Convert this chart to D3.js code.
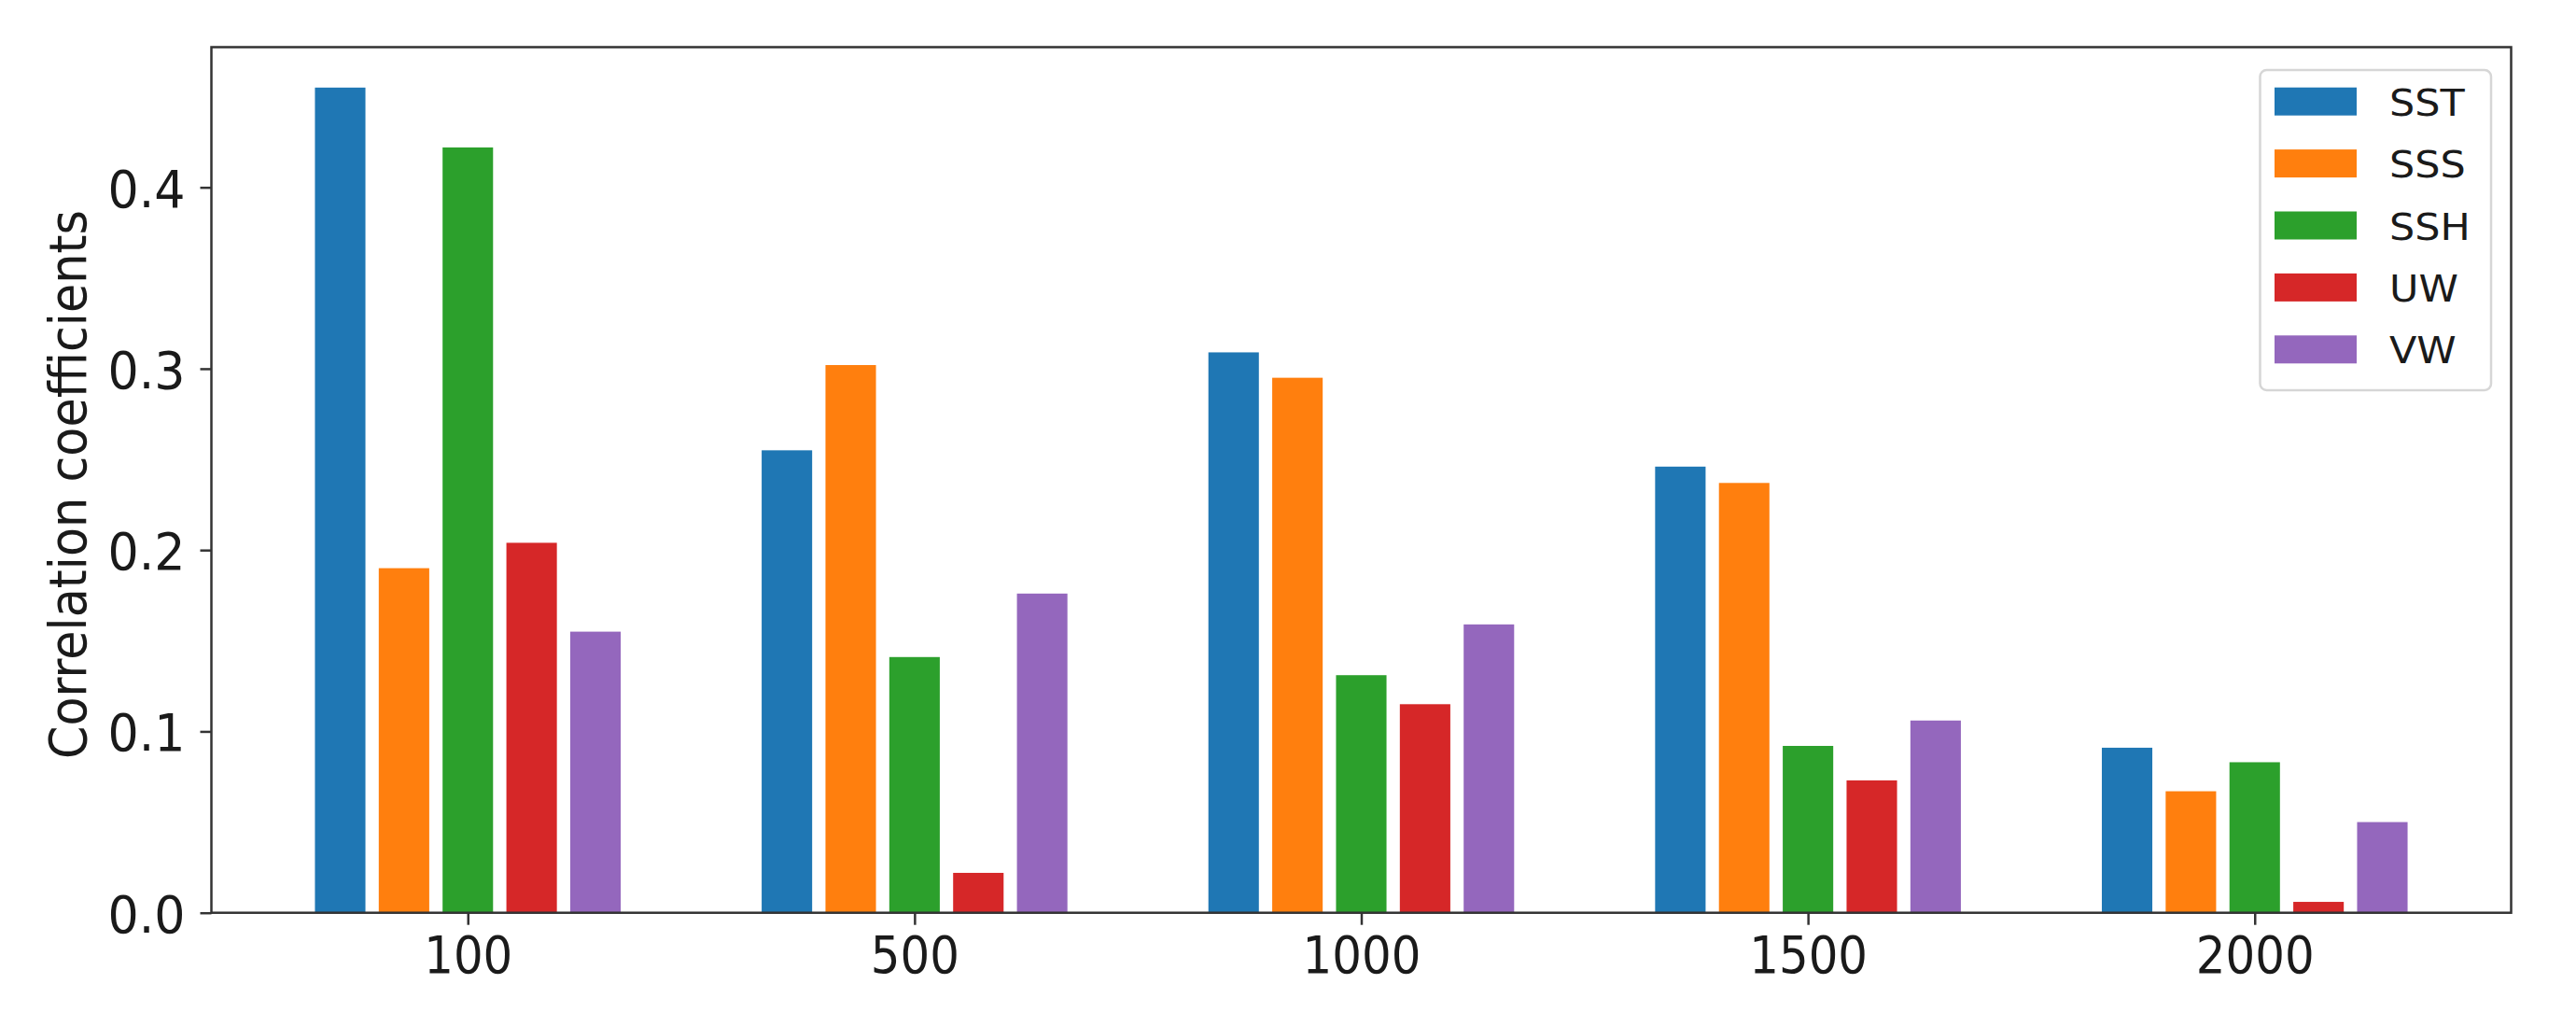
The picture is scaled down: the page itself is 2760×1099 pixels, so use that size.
<!DOCTYPE html>
<html>
<head>
<meta charset="utf-8">
<script src="https://cdn.jsdelivr.net/npm/d3@7"></script>
<style>
  html, body { margin: 0; padding: 0; background: #ffffff; }
  svg { display: block; }
</style>
</head>
<body>
<svg id="chart" width="2760" height="1099"></svg>
<script>
// ---- data ----
const categories = ["100", "500", "1000", "1500", "2000"];
const seriesNames = ["SST", "SSS", "SSH", "UW", "VW"];
const SST = [0.455, 0.255, 0.309, 0.246, 0.091];
const SSS = [0.190, 0.302, 0.295, 0.237, 0.067];
const SSH = [0.422, 0.141, 0.131, 0.092, 0.083];
const UW  = [0.204, 0.022, 0.115, 0.073, 0.006];
const VW  = [0.155, 0.176, 0.159, 0.106, 0.050];
const yTicks = [0.0, 0.1, 0.2, 0.3, 0.4];
const yLabel = "Correlation coefficients";

const seriesValues = [SST, SSS, SSH, UW, VW];
const colors = ["#1f77b4", "#ff7f0e", "#2ca02c", "#d62728", "#9467bd"];

// ---- layout ----
const axL = 226.5, axR = 2690.5, axT = 50.5, axB = 977.7;
const barStep = 1 / 7, barWidth = 0.113;

const svg = d3.select("#chart");
svg.append("rect").attr("width", 2760).attr("height", 1099).attr("fill", "#fff");

const x = d3.scaleLinear().domain([-0.574, categories.length - 1 + 0.574]).range([axL, axR]);
const y = d3.scaleLinear().domain([0, 0.4773]).range([axB, axT]);

// bars
const g = svg.append("g");
seriesValues.forEach((vals, j) => {
  g.selectAll(null).data(vals).enter().append("rect")
    .attr("x", (d, i) => x(i + (j - 2) * barStep - barWidth / 2))
    .attr("width", (d, i) => x(i + barWidth / 2) - x(i - barWidth / 2))
    .attr("y", d => y(d))
    .attr("height", d => y(0) - y(d))
    .attr("fill", colors[j]);
});

// x axis
const xAxis = d3.axisBottom(x)
  .tickValues(d3.range(categories.length))
  .tickFormat(i => categories[i])
  .tickSize(13).tickPadding(0);
const gx = svg.append("g").attr("transform", `translate(0,${axB})`).call(xAxis);
gx.select(".domain").remove();
gx.selectAll(".tick line").attr("stroke", "#333").attr("stroke-width", 2.5);
gx.selectAll(".tick text")
  .attr("font-family", "DejaVu Sans").attr("font-size", 56).attr("fill", "#1a1a1a")
  .attr("y", 0).attr("dy", 0)
  .attr("transform", "translate(0,64) scale(0.89,1)");

// y axis
const yAxis = d3.axisLeft(y).tickValues(yTicks).tickFormat(d3.format(".1f")).tickSize(12).tickPadding(0);
const gy = svg.append("g").attr("transform", `translate(${axL},0)`).call(yAxis);
gy.select(".domain").remove();
gy.selectAll(".tick line").attr("stroke", "#333").attr("stroke-width", 2.5);
gy.selectAll(".tick text")
  .attr("font-family", "DejaVu Sans").attr("font-size", 55).attr("fill", "#1a1a1a")
  .attr("x", 0).attr("dy", "0.37em")
  .attr("transform", "translate(-28,0) scale(0.95,1)");

// frame (spines)
svg.append("rect")
  .attr("x", axL).attr("y", axT).attr("width", axR - axL).attr("height", axB - axT)
  .attr("fill", "none").attr("stroke", "#333").attr("stroke-width", 2.5);

// y label
svg.append("text")
  .attr("transform", `translate(91.5,${(axT + axB) / 2 + 5}) rotate(-90)`)
  .attr("text-anchor", "middle")
  .attr("font-family", "DejaVu Sans").attr("font-size", 55).attr("fill", "#1a1a1a")
  .attr("textLength", 588).attr("lengthAdjust", "spacingAndGlyphs")
  .text(yLabel);

// legend
const lg = svg.append("g");
lg.append("rect")
  .attr("x", 2421.5).attr("y", 75).attr("width", 247.5).attr("height", 343)
  .attr("rx", 7).attr("ry", 7)
  .attr("fill", "#fff").attr("fill-opacity", 0.8)
  .attr("stroke", "#d6d6d6").attr("stroke-width", 2.5);
const rowY0 = 93.7, rowStep = 66.4;
seriesNames.forEach((name, j) => {
  lg.append("rect")
    .attr("x", 2437).attr("y", rowY0 + j * rowStep)
    .attr("width", 88).attr("height", 30)
    .attr("fill", colors[j]);
  lg.append("text")
    .attr("transform", `translate(2560,${rowY0 + j * rowStep + 30}) scale(1.1,1)`)
    .attr("font-family", "DejaVu Sans").attr("font-size", 39).attr("fill", "#1a1a1a")
    .text(name);
});
</script>
</body>
</html>
